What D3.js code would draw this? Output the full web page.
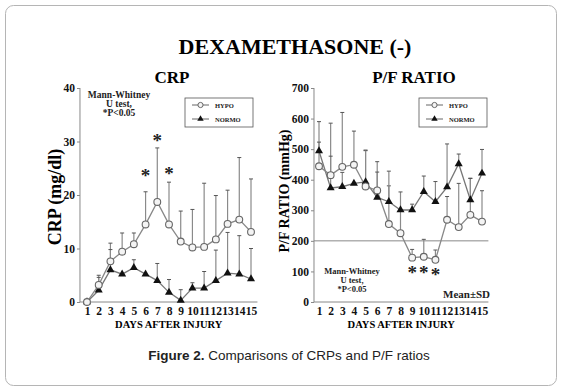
<!DOCTYPE html>
<html>
<head>
<meta charset="utf-8">
<script src="https://cdn.jsdelivr.net/npm/d3@7"></script>
<style>
  body { margin: 0; background: #fff; }
  svg { display: block; }
</style>
</head>
<body>
<div id="chart"></div>
<script>
// Days after injury
const days = [1, 2, 3, 4, 5, 6, 7, 8, 9, 10, 11, 12, 13, 14, 15];

// CRP (mg/dl), mean and mean+SD
const crpHypo = [0, 3.2, 7.6, 9.4, 10.8, 14.5, 18.7, 14.5, 11.3, 10.2, 10.3, 11.7, 14.6, 15.4, 13.1];
const crpHypoUp = [null, 5.0, 11.0, 12.9, 12.9, 20.6, 28.8, 22.4, 17.0, 17.3, 22.2, 19.9, 20.9, 27.0, 23.0];
const crpNormo = [0, 2.2, 6.0, 5.2, 6.4, 5.2, 4.0, 1.8, 0.3, 2.6, 2.6, 4.0, 5.4, 5.2, 4.3];
const crpNormoUp = [null, 4.6, 9.8, null, 7.9, null, 7.2, 4.2, 2.3, 3.6, 5.7, 9.7, 13.0, 12.4, 10.0];
const crpStarDays = [6, 7, 8];
const crpStarY = [24.1, 30.7, 24.5];

// P/F ratio (mmHg), mean and mean+SD
const pfHypo = [444, 415, 442, 449, 378, 365, 255, 225, 145, 148, 138, 269, 245, 285, 263];
const pfHypoUp = [590, 585, 620, 559, 495, 459, 380, 360, 172, 205, 170, 345, 388, 405, 364];
const pfNormo = [494, 373, 377, 388, 393, 342, 328, 301, 301, 361, 328, 376, 452, 334, 421];
const pfNormoUp = [523, 477, 424, null, 497, 425, 428, null, 320, 412, 394, 517, 484, 404, 499];
const pfStarDays = [9, 10, 11];
const pfStarY = [105, 105, 98];

const W = 563, H = 392;
const serif = "'Liberation Serif', 'Times New Roman', serif";

const svg = d3.select("#chart").append("svg")
  .attr("width", W)
  .attr("height", H);

svg.append("rect").attr("width", W).attr("height", H).attr("fill", "#fff");

// rounded frame
svg.append("rect")
  .attr("x", 5.5).attr("y", 5.5)
  .attr("width", 551).attr("height", 380)
  .attr("rx", 8)
  .attr("fill", "none")
  .attr("stroke", "#b5b5b5");

svg.append("text")
  .attr("x", 295).attr("y", 54)
  .attr("text-anchor", "middle")
  .style("font-family", serif)
  .style("font-weight", "bold")
  .style("font-size", "22px")
  .text("DEXAMETHASONE (-)");

// caption
const cap = svg.append("text")
  .attr("x", 289).attr("y", 360)
  .attr("text-anchor", "middle")
  .style("font-family", "'Liberation Sans', Arial, sans-serif")
  .style("font-size", "13.5px")
  .attr("fill", "#222");
cap.append("tspan").style("font-weight", "bold").text("Figure 2.");
cap.append("tspan").text(" Comparisons of CRPs and P/F ratios");

function panel(cfg) {
  const g = svg.append("g");
  const x = d3.scaleLinear().domain([1, 15]).range([cfg.x0, cfg.x1]);
  const y = d3.scaleLinear().domain([0, cfg.ymax]).range([302, 88]);
  const left = x(cfg.xmin);
  const right = x(15.55);

  // y axis
  const yAxis = g.append("g")
    .attr("transform", `translate(${left},0)`)
    .call(d3.axisLeft(y).tickValues(cfg.yticks).tickSize(3).tickPadding(2));
  yAxis.select(".domain").attr("stroke", "#888").attr("d", `M-0,${y(cfg.ymax)}V${y(0)}`);
  yAxis.selectAll(".tick line").attr("stroke", "#888");
  yAxis.selectAll("text")
    .style("font-family", serif).style("font-weight", "bold").style("font-size", "11.5px")
    .attr("fill", "#111");

  // x axis
  const xAxis = g.append("g")
    .attr("transform", `translate(0,${y(0)})`)
    .call(d3.axisBottom(x).tickValues(days).tickSize(0).tickPadding(5));
  xAxis.select(".domain").attr("stroke", "#888").attr("d", `M${left},0H${right}`);
  xAxis.selectAll("text")
    .style("font-family", serif).style("font-weight", "bold").style("font-size", "11.5px")
    .attr("fill", "#111");

  // panel title and axis titles
  g.append("text")
    .attr("x", cfg.titleX).attr("y", 83)
    .attr("text-anchor", "middle")
    .style("font-family", serif).style("font-weight", "bold").style("font-size", "17px")
    .text(cfg.title);
  g.append("text")
    .attr("transform", `translate(${cfg.ylabX},${cfg.ylabY}) rotate(-90)`)
    .attr("text-anchor", "middle")
    .style("font-family", serif).style("font-weight", "bold").style("font-size", cfg.ylabSize)
    .text(cfg.ylabel);
  g.append("text")
    .attr("x", (left + right) / 2).attr("y", 328)
    .attr("text-anchor", "middle")
    .style("font-family", serif).style("font-weight", "bold").style("font-size", "10.5px")
    .text("DAYS AFTER INJURY");

  if (cfg.refLine != null) {
    g.append("line")
      .attr("x1", left).attr("x2", right)
      .attr("y1", y(cfg.refLine)).attr("y2", y(cfg.refLine))
      .attr("stroke", "#888");
  }

  // error bars (upper SD only)
  const series = [
    { mean: cfg.hypo, up: cfg.hypoUp, color: "#8a8a8a" },
    { mean: cfg.normo, up: cfg.normoUp, color: "#8a8a8a" }
  ];
  series.forEach(s => {
    days.forEach((d, i) => {
      if (s.up[i] == null) return;
      g.append("line")
        .attr("x1", x(d)).attr("x2", x(d))
        .attr("y1", y(s.mean[i])).attr("y2", y(s.up[i]))
        .attr("stroke", s.color).attr("stroke-width", 1.2);
      g.append("line")
        .attr("x1", x(d) - 2).attr("x2", x(d) + 2)
        .attr("y1", y(s.up[i])).attr("y2", y(s.up[i]))
        .attr("stroke", "#555").attr("stroke-width", 1);
    });
  });

  const line = d3.line().x((v, i) => x(days[i])).y(v => y(v));
  g.append("path").datum(cfg.normo).attr("d", line)
    .attr("fill", "none").attr("stroke", "#777").attr("stroke-width", 1.3);
  g.append("path").datum(cfg.hypo).attr("d", line)
    .attr("fill", "none").attr("stroke", "#888").attr("stroke-width", 1.3);

  g.selectAll(".tri").data(cfg.normo).enter().append("path")
    .attr("transform", (v, i) => `translate(${x(days[i])},${y(v)})`)
    .attr("d", d3.symbol(d3.symbolTriangle, 28))
    .attr("fill", "#111");
  g.selectAll(".circ").data(cfg.hypo).enter().append("circle")
    .attr("cx", (v, i) => x(days[i])).attr("cy", v => y(v))
    .attr("r", 3.4)
    .attr("fill", "#f4f4f4").attr("stroke", "#666").attr("stroke-width", 1.1);

  // significance stars
  cfg.starDays.forEach((d, i) => {
    g.append("text")
      .attr("x", x(d)).attr("y", y(cfg.starY[i]) + 9)
      .attr("text-anchor", "middle")
      .style("font-family", serif).style("font-weight", "bold").style("font-size", "19px")
      .attr("fill", "#222")
      .text("*");
  });

  // statistics note
  cfg.note.lines.forEach((t, i) => {
    g.append("text")
      .attr("x", cfg.note.x).attr("y", cfg.note.y + i * cfg.note.dy)
      .attr("text-anchor", "middle")
      .style("font-family", serif).style("font-weight", "bold").style("font-size", cfg.note.size)
      .attr("fill", "#222")
      .text(t);
  });

  // legend
  const L = cfg.legend;
  g.append("rect")
    .attr("x", L.x).attr("y", L.y).attr("width", L.w).attr("height", L.h)
    .attr("fill", "#fff").attr("stroke", "#555").attr("stroke-width", 0.8);
  const rows = [
    { label: "HYPO", y: L.y + 7, type: "circle" },
    { label: "NORMO", y: L.y + L.h - 8, type: "tri" }
  ];
  rows.forEach(r => {
    g.append("line")
      .attr("x1", L.x + 7).attr("x2", L.x + 24)
      .attr("y1", r.y).attr("y2", r.y)
      .attr("stroke", "#666").attr("stroke-width", 1);
    if (r.type === "circle") {
      g.append("circle").attr("cx", L.x + 15.5).attr("cy", r.y).attr("r", 2.6)
        .attr("fill", "#f4f4f4").attr("stroke", "#666");
    } else {
      g.append("path")
        .attr("transform", `translate(${L.x + 15.5},${r.y})`)
        .attr("d", d3.symbol(d3.symbolTriangle, 18))
        .attr("fill", "#111");
    }
    g.append("text")
      .attr("x", L.x + 30).attr("y", r.y + 2.5)
      .style("font-family", serif).style("font-weight", "bold").style("font-size", "6.5px")
      .attr("fill", "#222")
      .text(r.label);
  });
}

panel({
  x0: 87, x1: 251, xmin: 0.4, ymax: 40, yticks: [0, 10, 20, 30, 40],
  title: "CRP", titleX: 172,
  ylabel: "CRP (mg/dl)", ylabX: 61, ylabY: 197, ylabSize: "18px",
  hypo: crpHypo, hypoUp: crpHypoUp, normo: crpNormo, normoUp: crpNormoUp,
  starDays: crpStarDays, starY: crpStarY,
  note: { x: 119, y: 98, dy: 9, size: "9.5px", lines: ["Mann-Whitney", "U test,", "*P<0.05"] },
  legend: { x: 185, y: 98, w: 68, h: 29 },
  refLine: null
});

panel({
  x0: 319, x1: 482, xmin: 0.57, ymax: 700, yticks: [0, 100, 200, 300, 400, 500, 600, 700],
  title: "P/F RATIO", titleX: 414,
  ylabel: "P/F RATIO (mmHg)", ylabX: 289, ylabY: 191, ylabSize: "14px",
  hypo: pfHypo, hypoUp: pfHypoUp, normo: pfNormo, normoUp: pfNormoUp,
  starDays: pfStarDays, starY: pfStarY,
  note: { x: 352, y: 274, dy: 9, size: "8.5px", lines: ["Mann-Whitney", "U test,", "*P<0.05"] },
  legend: { x: 419, y: 98, w: 68, h: 29 },
  refLine: 200
});

svg.append("text")
  .attr("x", 490).attr("y", 298)
  .attr("text-anchor", "end")
  .style("font-family", serif).style("font-weight", "bold").style("font-size", "11px")
  .attr("fill", "#222")
  .text("Mean±SD");
</script>
</body>
</html>
